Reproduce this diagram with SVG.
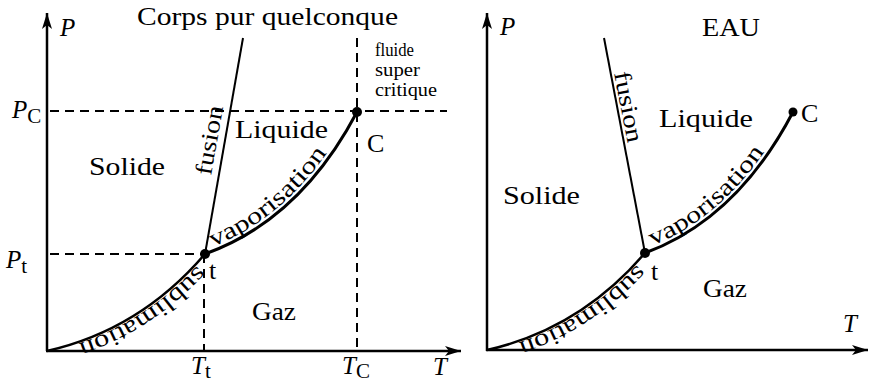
<svg xmlns="http://www.w3.org/2000/svg" width="870" height="383" viewBox="0 0 870 383">
<style>
text{font-family:"Liberation Serif","Times New Roman",serif;fill:#000}
.lb{font-size:26px}
.it{font-style:italic;font-size:25px}
.sub{font-size:21px}
.sm{font-size:18px}
.pl{font-size:24px}
.ax{stroke:#000;stroke-width:2.5;fill:none}
.dash{stroke:#000;stroke-width:2;stroke-dasharray:9 6;fill:none}
.fu{stroke:#000;stroke-width:2;fill:none}
.cv{stroke:#000;stroke-width:3;fill:none}
.sb{stroke:#000;stroke-width:2.5;fill:none}
.pt{fill:#000}
</style>
<defs>
<marker id="arr" markerUnits="userSpaceOnUse" markerWidth="17" markerHeight="11" refX="16" refY="5.5" orient="auto" viewBox="0 0 17 11">
<path d="M0,0.5 L16,5.5 L0,10.5 L4,5.5 z" fill="#000"/>
</marker>
<path id="vapL" d="M207,249 Q300,214 353,109"/>
<path id="subL" d="M204,258 Q140,332 47,352"/>
<path id="vapR" d="M647,248 Q737,213 789,110"/>
<path id="subR" d="M644,257 Q580,331 487,351"/>
</defs>

<g id="connectors">
<!-- left panel -->
<line class="ax" x1="47" y1="351" x2="47" y2="13" marker-end="url(#arr)"/>
<line class="ax" x1="46" y1="351" x2="461" y2="351" marker-end="url(#arr)"/>
<line class="dash" x1="50" y1="111" x2="447" y2="111"/>
<line class="dash" x1="357" y1="38" x2="357" y2="350"/>
<line class="dash" x1="50" y1="254" x2="205" y2="254"/>
<line class="dash" x1="204" y1="254" x2="204" y2="350"/>
<line class="fu" x1="243" y1="38" x2="205" y2="254"/>
<path class="cv" d="M205,254 Q300,220 357,112"/>
<path class="sb" d="M47,351 Q140,330 205,254"/>
<!-- right panel -->
<line class="ax" x1="487" y1="351" x2="487" y2="13" marker-end="url(#arr)"/>
<line class="ax" x1="486" y1="350" x2="868" y2="350" marker-end="url(#arr)"/>
<line class="fu" x1="604" y1="38" x2="645" y2="253"/>
<path class="cv" d="M645,253 Q737,219 793,112"/>
<path class="sb" d="M487,350 Q580,329 645,253"/>
</g>

<g id="left-diagram">
<text class="lb" x="137" y="25" textLength="261" lengthAdjust="spacingAndGlyphs">Corps pur quelconque</text>
<text class="it" x="60" y="36">P</text>
<text class="lb" x="89" y="175" textLength="76" lengthAdjust="spacingAndGlyphs">Solide</text>
<text class="lb" x="235" y="138" textLength="93" lengthAdjust="spacingAndGlyphs">Liquide</text>
<text class="lb" x="252" y="320" textLength="44" lengthAdjust="spacingAndGlyphs">Gaz</text>
<text class="lb" x="367" y="152">C</text>
<text class="lb" x="209" y="279">t</text>
<text class="sm" x="375" y="56" textLength="39" lengthAdjust="spacingAndGlyphs">fluide</text>
<text class="sm" x="375" y="76" textLength="45" lengthAdjust="spacingAndGlyphs">super</text>
<text class="sm" x="375" y="96" textLength="62" lengthAdjust="spacingAndGlyphs">critique</text>
<text class="it" x="12" y="118">P<tspan class="sub" font-style="normal" dy="5">C</tspan></text>
<text class="it" x="6" y="268">P<tspan class="sub" font-style="normal" dy="5">t</tspan></text>
<text class="it" x="191" y="374">T<tspan class="sub" font-style="normal" dy="4">t</tspan></text>
<text class="it" x="342" y="374">T<tspan class="sub" font-style="normal" dy="4">C</tspan></text>
<text class="it" x="433" y="375">T</text>
<text class="pl" transform="translate(211,176) rotate(-80)" textLength="70" lengthAdjust="spacingAndGlyphs">fusion</text>
<text class="pl"><textPath href="#vapL" startOffset="6" textLength="150" lengthAdjust="spacingAndGlyphs">vaporisation</textPath></text>
<text class="pl"><textPath href="#subL" startOffset="10" textLength="144" lengthAdjust="spacingAndGlyphs">sublimation</textPath></text>
<circle class="pt" cx="205" cy="254" r="5"/>
<circle class="pt" cx="357" cy="112" r="5"/>
</g>

<g id="right-diagram">
<text class="it" x="500" y="35">P</text>
<text class="lb" x="702" y="36" textLength="58" lengthAdjust="spacingAndGlyphs">EAU</text>
<text class="lb" x="659" y="127" textLength="94" lengthAdjust="spacingAndGlyphs">Liquide</text>
<text class="lb" x="801" y="122">C</text>
<text class="lb" x="503" y="204" textLength="77" lengthAdjust="spacingAndGlyphs">Solide</text>
<text class="lb" x="651" y="280">t</text>
<text class="lb" x="703" y="297" textLength="44" lengthAdjust="spacingAndGlyphs">Gaz</text>
<text class="it" x="843" y="332">T</text>
<text class="pl" transform="translate(614,73) rotate(79)" textLength="72" lengthAdjust="spacingAndGlyphs">fusion</text>
<text class="pl"><textPath href="#vapR" startOffset="6" textLength="148" lengthAdjust="spacingAndGlyphs">vaporisation</textPath></text>
<text class="pl"><textPath href="#subR" startOffset="10" textLength="144" lengthAdjust="spacingAndGlyphs">sublimation</textPath></text>
<circle class="pt" cx="645" cy="253" r="5"/>
<circle class="pt" cx="793" cy="112" r="4.5"/>
</g>
</svg>
